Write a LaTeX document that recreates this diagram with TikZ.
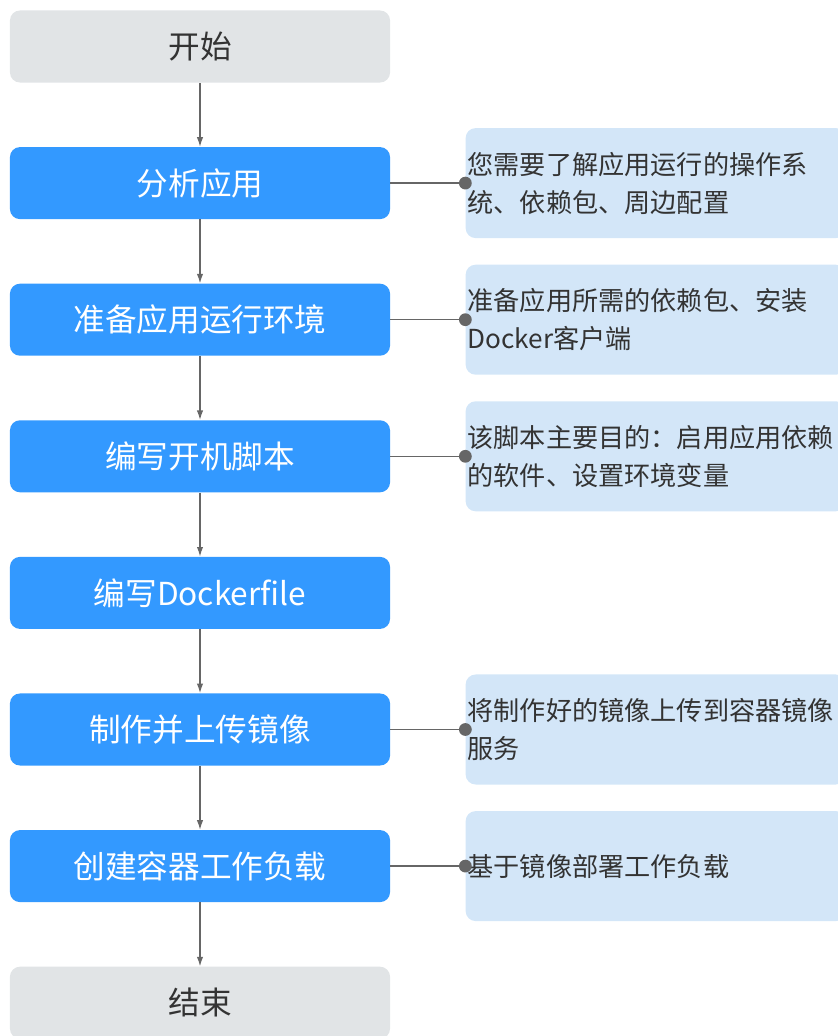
\documentclass[tikz,border=0pt]{standalone}
\usepackage{fontspec}
\setmainfont{Noto Sans CJK SC}
\usepackage{tikz}
\usetikzlibrary{arrows.meta,calc,positioning}
\definecolor{stepblue}{HTML}{3399FF}
\definecolor{endgray}{HTML}{E1E4E6}
\definecolor{noteblue}{HTML}{D3E6F8}
\definecolor{linegray}{HTML}{666666}
\definecolor{textgray}{HTML}{333333}

\begin{document}
\begin{tikzpicture}[x=0.025cm,y=-0.025cm,
    base/.style={rounded corners=0.25cm, minimum width=9.5cm, minimum height=1.8cm,
      inner sep=0pt, font=\fontsize{22.5}{27}\selectfont},
    stepbox/.style={base, fill=stepblue, text=white},
    endbox/.style={base, fill=endgray, text=textgray},
    notebox/.style={rounded corners=0.25cm, fill=noteblue, anchor=west,
      minimum height=2.75cm, inner xsep=0.05cm, inner ysep=0pt, text width=9.4cm,
      align=left, text=textgray, font=\fontsize{18.6}{27}\selectfont},
    flow/.style={-{Latex[length=2.4mm,width=1.6mm]}, linegray, line width=0.9pt},
    link/.style={linegray, line width=0.9pt},
    node distance=1.6cm and 1.875cm]
        \useasboundingbox (0,0) rectangle (837,1036);
        %Steps
        \node[endbox] (start) at (200,46.5) {开始};
        \node[stepbox, below=of start] (analyse) {分析应用};
        \node[stepbox, below=of analyse] (prepare) {准备应用运行环境};
        \node[stepbox, below=of prepare] (script) {编写开机脚本};
        \node[stepbox, below=of script] (dockerfile) {编写Dockerfile};
        \node[stepbox, below=of dockerfile] (upload) {制作并上传镜像};
        \node[stepbox, below=of upload] (deploy) {创建容器工作负载};
        \node[endbox, below=of deploy] (finish) {结束};
        %Notes
        \node[notebox, right=of analyse] (noteAnalyse) {您需要了解应用运行的操作系\\统、依赖包、周边配置};
        \node[notebox, right=of prepare] (notePrepare) {准备应用所需的依赖包、安装\\Docker客户端};
        \node[notebox, right=of script] (noteScript) {该脚本主要目的：启用应用依赖\\的软件、设置环境变量};
        \node[notebox, right=of upload] (noteUpload) {将制作好的镜像上传到容器镜像\\服务};
        \node[notebox, right=of deploy] (noteDeploy) {基于镜像部署工作负载};
        %Arrows
        \draw[flow] (start) -- (analyse);
        \draw[flow] (analyse) -- (prepare);
        \draw[flow] (prepare) -- (script);
        \draw[flow] (script) -- (dockerfile);
        \draw[flow] (dockerfile) -- (upload);
        \draw[flow] (upload) -- (deploy);
        \draw[flow] (deploy) -- (finish);
        %Links
        \draw[link] (analyse) -- (noteAnalyse.west);
        \draw[link] (prepare) -- (notePrepare.west);
        \draw[link] (script) -- (noteScript.west);
        \draw[link] (upload) -- (noteUpload.west);
        \draw[link] (deploy) -- (noteDeploy.west);
        %Dots
        \fill[linegray] (noteAnalyse.west) circle(0.16cm);
        \fill[linegray] (notePrepare.west) circle(0.16cm);
        \fill[linegray] (noteScript.west) circle(0.16cm);
        \fill[linegray] (noteUpload.west) circle(0.16cm);
        \fill[linegray] (noteDeploy.west) circle(0.16cm);
\end{tikzpicture}
\end{document}
